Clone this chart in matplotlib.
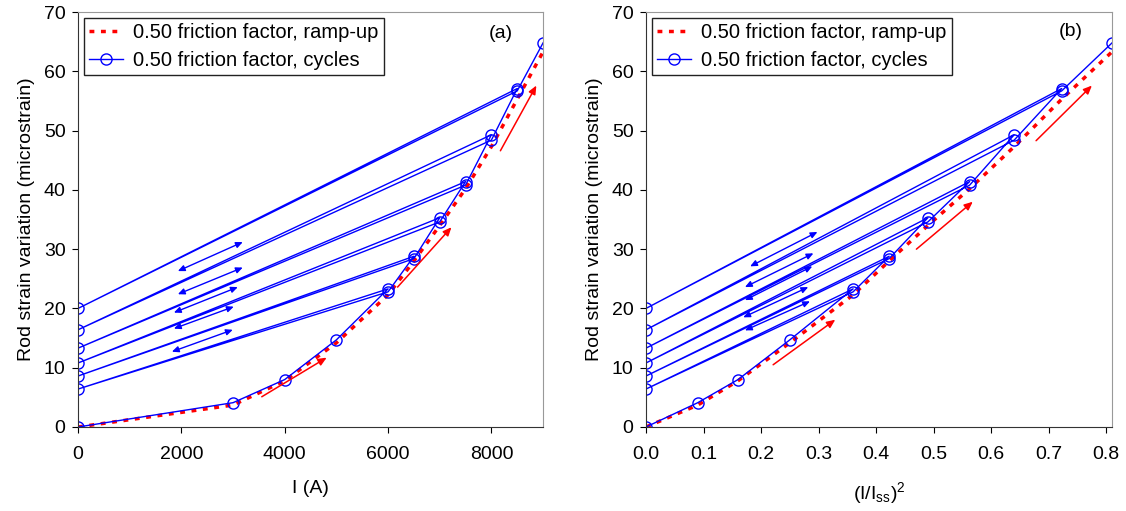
import matplotlib.pyplot as plt

plt.rcParams["font.family"] = ["Liberation Sans", "DejaVu Sans"]
plt.rcParams["mathtext.default"] = "regular"

# Ramp-up (red dotted)
ramp_I = [0, 3000, 4000, 5000, 6000, 6500, 7000, 7500, 8000, 8500, 9000]
ramp_strain = [0, 3.7, 7.8, 14.2, 22.3, 28.0, 34.0, 40.2, 47.3, 55.3, 63.3]

# Cycles (blue, circles): ramp, unload to 0, reload, continue
cycle_I = [0, 3000, 4000, 5000, 6000, 0, 6000, 6500, 0, 6500, 7000, 0, 7000,
           7500, 0, 7500, 8000, 0, 8000, 8500, 0, 8500, 9000]
cycle_strain = [0, 4.1, 8.0, 14.7, 23.3, 6.4, 22.8, 28.8, 8.6, 28.4, 35.3, 10.8,
                34.6, 41.4, 13.3, 40.8, 49.3, 16.4, 48.4, 57.1, 20.0, 56.7, 64.8]

I_ss = 10000.0

# arrow annotations (start x, start y, end x, end y)
red_arrows_a = [(3556, 5.1, 4812, 11.7), (6184, 23.6, 7227, 33.7), (8174, 46.6, 8870, 57.6)]
blue_arrows_a = [(1932, 26.3, 3188, 31.2), (1932, 22.4, 3188, 26.9), (1855, 19.3, 3092, 23.6),
                 (1855, 16.6, 3014, 20.3), (1816, 12.7, 2995, 16.4)]
red_arrows_b = [(0.221, 10.5, 0.329, 18.1), (0.470, 30.0, 0.568, 38.0), (0.678, 48.3, 0.775, 57.6)]
blue_arrows_b = [(0.181, 27.1, 0.298, 32.9), (0.172, 23.6, 0.291, 29.3), (0.172, 21.4, 0.289, 27.1),
                 (0.169, 18.5, 0.282, 23.6), (0.172, 16.3, 0.285, 21.2)]


def draw_panel(ax, x_ramp, x_cycle, red_arrows, blue_arrows, tag, tag_xy, xlim, xticks, xticklabels, xlabel):
    ax.plot(x_ramp, ramp_strain, color="red", linestyle=(0, (1.4, 1.9)), lw=2.5,
            label="0.50 friction factor, ramp-up")
    ax.plot(x_cycle, cycle_strain, color="blue", lw=1.0, marker="o", ms=8,
            markerfacecolor="none", markeredgewidth=1.0, label="0.50 friction factor, cycles")
    for x0, y0, x1, y1 in red_arrows:
        ax.annotate("", xy=(x1, y1), xytext=(x0, y0),
                    arrowprops=dict(arrowstyle="-|>,head_length=0.5,head_width=0.22",
                                    color="red", lw=1.1, shrinkA=0, shrinkB=0))
    for x0, y0, x1, y1 in blue_arrows:
        ax.annotate("", xy=(x1, y1), xytext=(x0, y0),
                    arrowprops=dict(arrowstyle="<|-|>,head_length=0.4,head_width=0.18",
                                    color="blue", lw=1.0, shrinkA=0, shrinkB=0))
    ax.text(tag_xy[0], tag_xy[1], tag, fontsize=14, ha="center", va="center")
    ax.set_xlim(*xlim)
    ax.set_ylim(0, 70)
    ax.set_xticks(xticks)
    ax.set_xticklabels(xticklabels)
    ax.set_yticks(range(0, 71, 10))
    ax.tick_params(labelsize=14, direction="out", length=4, pad=10)
    ax.tick_params(axis="y", pad=5)
    ax.set_xlabel(xlabel, fontsize=14, labelpad=12)
    ax.set_ylabel("Rod strain variation (microstrain)", fontsize=14, labelpad=6)
    for s in ["top", "right"]:
        ax.spines[s].set_color("#999999")
    for s in ["left", "bottom"]:
        ax.spines[s].set_color("#333333")
    leg = ax.legend(loc="upper left", fontsize=14.5, fancybox=False, edgecolor="#222222",
                    framealpha=1, borderaxespad=0.3, handlelength=1.7, handletextpad=0.5,
                    borderpad=0.25, labelspacing=0.45)
    leg.get_frame().set_linewidth(1.0)


fig = plt.figure(figsize=(11.26, 5.11), dpi=100)
ax_a = fig.add_axes([0.0693, 0.1644, 0.413, 0.812])
ax_b = fig.add_axes([0.5737, 0.1644, 0.4139, 0.812])

draw_panel(ax_a, ramp_I, cycle_I, red_arrows_a, blue_arrows_a, "(a)", (8190, 66.4),
           (0, 9000), [0, 2000, 4000, 6000, 8000], ["0", "2000", "4000", "6000", "8000"], "I (A)")

x_ramp_b = [(i / I_ss) ** 2 for i in ramp_I]
x_cycle_b = [(i / I_ss) ** 2 for i in cycle_I]
bt = [0.0, 0.1, 0.2, 0.3, 0.4, 0.5, 0.6, 0.7, 0.8]
draw_panel(ax_b, x_ramp_b, x_cycle_b, red_arrows_b, blue_arrows_b, "(b)", (0.739, 66.8),
           (0, 0.81), bt, [f"{v:.1f}" for v in bt], r"(I/I$_{ss}$)$^{2}$")

fig.savefig("out.png", dpi=100)
